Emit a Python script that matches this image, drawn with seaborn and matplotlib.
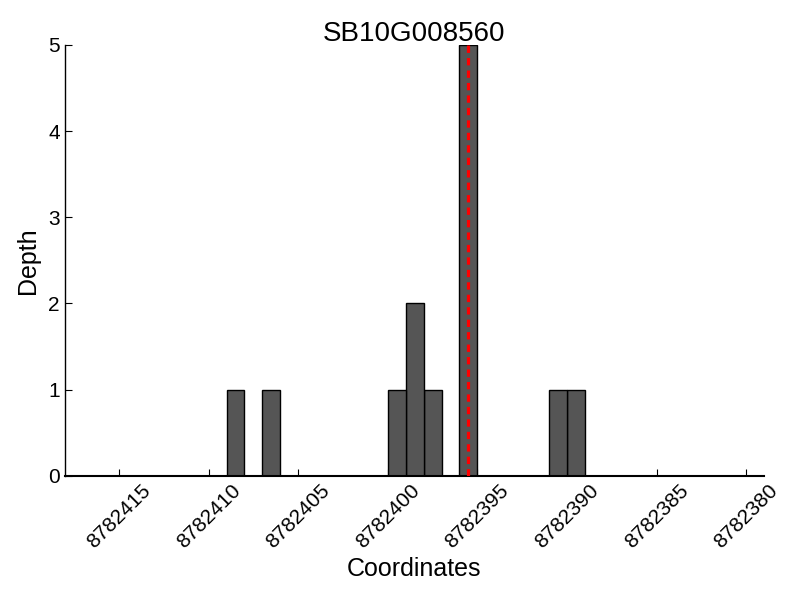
import numpy as np
import pandas as pd
import seaborn as sns
import matplotlib
matplotlib.use("Agg")
import matplotlib.pyplot as plt

# read depth per coordinate
positions = [8782408, 8782406, 8782399, 8782398, 8782397, 8782395, 8782390, 8782389]
depths = [1, 1, 1, 2, 1, 5, 1, 1]
snp_pos = 8782395.5
x_ticks = [8782415, 8782410, 8782405, 8782400, 8782395, 8782390, 8782385, 8782380]
gene = "SB10G008560"

data = pd.DataFrame({"pos": positions, "depth": depths})

sns.set_style("white")
plt.rcParams["font.family"] = ["Liberation Sans", "DejaVu Sans"]
plt.rcParams["text.color"] = "black"
plt.rcParams["axes.labelcolor"] = "black"

fig = plt.figure(figsize=(8, 6), dpi=100)
ax = fig.add_axes([0.081, 0.207, 0.874, 0.718])

sns.histplot(data=data, x="pos", weights="depth", binwidth=1, binrange=(8782379, 8782419),
             color="#555555", edgecolor="black", linewidth=1, alpha=1, ax=ax)
ax.plot([snp_pos, snp_pos], [0, max(depths)], color="#ff0000", linestyle="--",
        linewidth=2.3, dashes=(2.3, 1.6), zorder=5)

ax.set_xlim(8782418.03, 8782379)
ax.set_ylim(0, 5)
ax.set_xticks(x_ticks)
ax.set_xticklabels([str(t) for t in x_ticks], rotation=45, fontsize=15)
ax.set_yticks(range(0, 6))
ax.tick_params(axis="y", labelsize=15)
ax.tick_params(direction="in", length=5, width=0.8, bottom=True, left=True,
               colors="black", labelcolor="black")
ax.set_xlabel("Coordinates", fontsize=18, color="black")
ax.set_ylabel("Depth", fontsize=18, color="black", labelpad=6)
ax.set_title(gene, fontsize=20, pad=3, color="black")
sns.despine(ax=ax)
ax.spines["bottom"].set_linewidth(1.5)
ax.spines["left"].set_linewidth(1.0)
ax.spines["bottom"].set_color("black")
ax.spines["left"].set_color("black")

plt.savefig("out.png", dpi=100)
